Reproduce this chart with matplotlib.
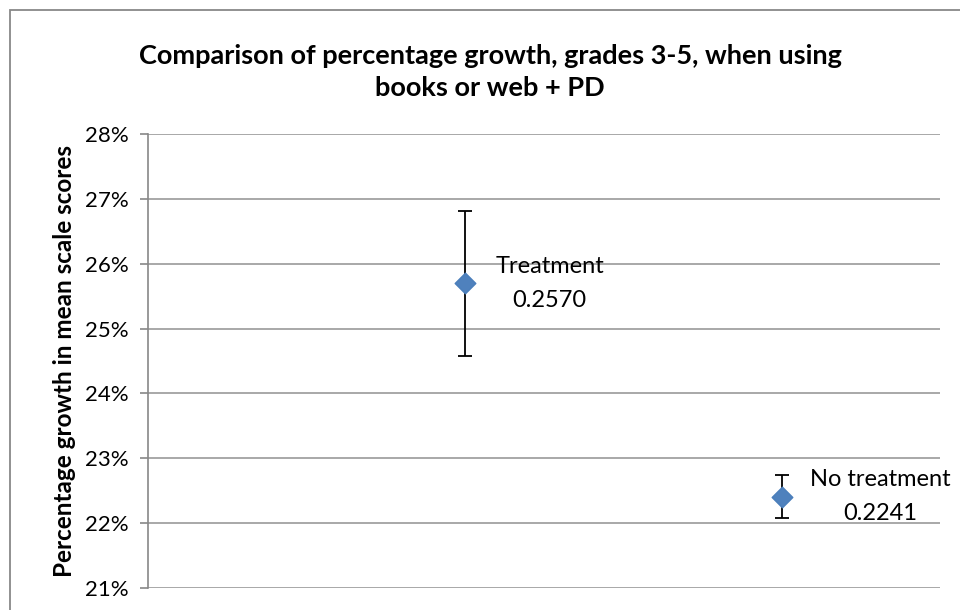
import matplotlib
matplotlib.use("Agg")
import matplotlib.pyplot as plt
from matplotlib.patches import Rectangle
from matplotlib.ticker import FuncFormatter

plt.rcParams['font.family'] = ['Lato', 'DejaVu Sans']

categories = ["Treatment", "No treatment"]
x_positions = [1, 2]
values = [0.2570, 0.2241]
errors = [0.0112, 0.0033]
y_ticks = [0.21, 0.22, 0.23, 0.24, 0.25, 0.26, 0.27, 0.28]

fig = plt.figure(figsize=(9.6, 6.1), dpi=100)
ax = fig.add_axes([148/960, 1-588/610, (940-148)/960, (588-134)/610])

# chart border (cropped at right and bottom)
fig.patches.append(Rectangle((10/960, -0.05), 1.1, (610-10)/610 + 0.05,
                             transform=fig.transFigure, fill=False,
                             edgecolor='#888888', linewidth=1.3))

ax.errorbar(x_positions, values, yerr=errors, fmt='none', ecolor='black',
            elinewidth=1.3, capsize=5, capthick=1.3, zorder=3)
ax.scatter(x_positions, values, marker='D', s=110, color='#4F81BD',
           edgecolor='#4A7EBB', zorder=4)

ax.set_xlim(0, 2.5)
ax.set_ylim(0.21, 0.28)
ax.set_yticks(y_ticks)
ax.yaxis.set_major_formatter(FuncFormatter(lambda v, p: f"{round(v*100)}%"))
ax.set_xticks([])
ax.grid(axis='y', color='#999999', linewidth=1.2)
ax.set_axisbelow(True)
for s in ['top', 'right', 'bottom']:
    ax.spines[s].set_visible(False)
ax.spines['left'].set_color('#888888')
ax.spines['left'].set_linewidth(1.2)
ax.tick_params(axis='y', length=6, color='#888888', width=1.2, labelsize=16,
               pad=8)

# data labels
ax.annotate(f"{categories[0]}\n{values[0]:.4f}", (x_positions[0], values[0]),
            xytext=(61, 0), textcoords='offset points', ha='center',
            va='center', fontsize=17, linespacing=1.75)
ax.annotate(f"{categories[1]}\n{values[1]:.4f}", (x_positions[1], values[1]),
            xytext=(71, 0), textcoords='offset points', ha='center',
            va='center', fontsize=17, linespacing=1.75)

ax.set_ylabel("Percentage growth in mean scale scores", fontsize=17.5,
              fontweight='bold', labelpad=6)

fig.text(490/960, 1-72/610,
         "Comparison of percentage growth, grades 3-5, when using\nbooks or web + PD",
         ha='center', va='center', fontsize=19.5, fontweight='bold',
         linespacing=1.4)

fig.savefig("out.png", dpi=100)
